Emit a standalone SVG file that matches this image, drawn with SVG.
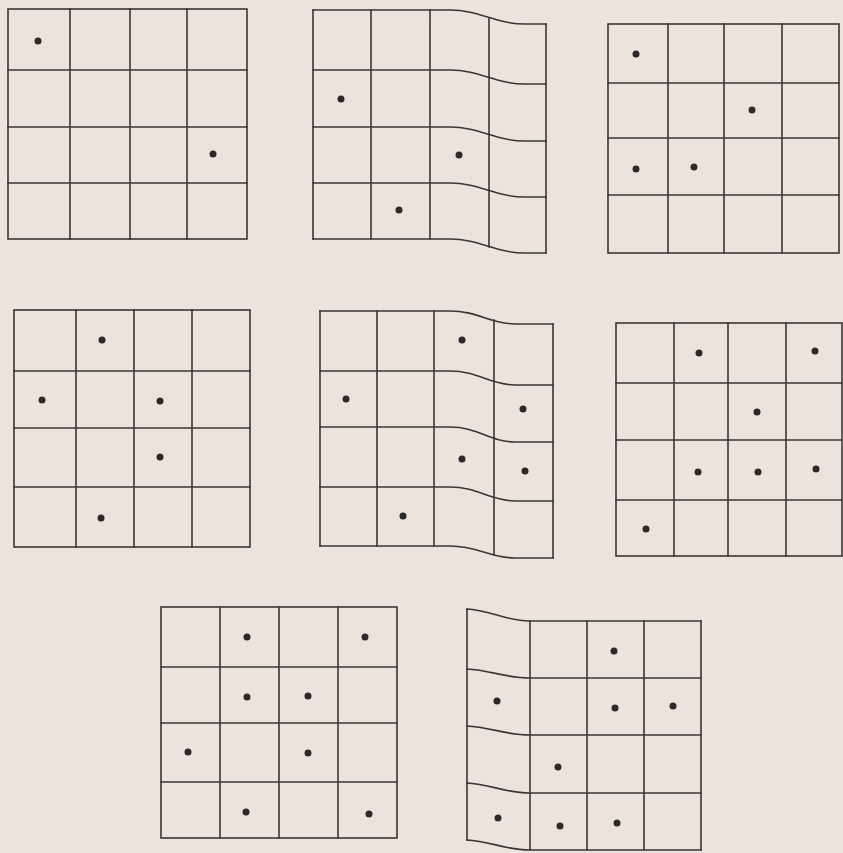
<svg xmlns="http://www.w3.org/2000/svg" width="843" height="853" viewBox="0 0 843 853">
<style>
.ln{stroke:#3b3634;stroke-width:1.6;fill:none;stroke-linecap:square}
.dot{fill:#2e2926}
</style>
<rect x="0" y="0" width="843" height="853" fill="#ede3da"/>
<g id="grid1">
<rect class="ln" x="8" y="9" width="239" height="230"/>
<path class="ln" d="M70,9V239M130,9V239M187,9V239M8,70H247M8,127H247M8,183H247"/>
<circle class="dot" cx="38" cy="41" r="3.5"/>
<circle class="dot" cx="213" cy="154" r="3.5"/>
</g>
<g id="grid2">
<path class="ln" d="M313,10V239M371,10V239M430,10V239M489,18V247M546,24V253"/>
<path class="ln" d="M313,10L450,10C480,10 495,24 525,24L546,24M313,70L450,70C480,70 495,84 525,84L546,84M313,127L450,127C480,127 495,141 525,141L546,141M313,183L450,183C480,183 495,197 525,197L546,197M313,239L450,239C480,239 495,253 525,253L546,253"/>
<circle class="dot" cx="341" cy="99" r="3.5"/>
<circle class="dot" cx="459" cy="155" r="3.5"/>
<circle class="dot" cx="399" cy="210" r="3.5"/>
</g>
<g id="grid3">
<rect class="ln" x="608" y="24" width="231" height="229"/>
<path class="ln" d="M668,24V253M724,24V253M782,24V253M608,83H839M608,138H839M608,195H839"/>
<circle class="dot" cx="636" cy="54" r="3.5"/>
<circle class="dot" cx="752" cy="110" r="3.5"/>
<circle class="dot" cx="636" cy="169" r="3.5"/>
<circle class="dot" cx="694" cy="167" r="3.5"/>
</g>
<g id="grid4">
<rect class="ln" x="14" y="310" width="236" height="237"/>
<path class="ln" d="M76,310V547M134,310V547M192,310V547M14,371H250M14,428H250M14,487H250"/>
<circle class="dot" cx="102" cy="340" r="3.5"/>
<circle class="dot" cx="42" cy="400" r="3.5"/>
<circle class="dot" cx="160" cy="401" r="3.5"/>
<circle class="dot" cx="160" cy="457" r="3.5"/>
<circle class="dot" cx="101" cy="518" r="3.5"/>
</g>
<g id="grid5">
<path class="ln" d="M320,311V546M377,311V546M434,311V546M494,320V555M553,324V558"/>
<path class="ln" d="M320,311L450,311C478,311 490,324 515,324L553,324M320,371L450,371C478,371 490,385 515,385L553,385M320,427L450,427C478,427 490,442 515,442L553,442M320,487L450,487C478,487 490,501 515,501L553,501M320,546L450,546C478,546 490,558 515,558L553,558"/>
<circle class="dot" cx="462" cy="340" r="3.5"/>
<circle class="dot" cx="346" cy="399" r="3.5"/>
<circle class="dot" cx="523" cy="409" r="3.5"/>
<circle class="dot" cx="462" cy="459" r="3.5"/>
<circle class="dot" cx="525" cy="471" r="3.5"/>
<circle class="dot" cx="403" cy="516" r="3.5"/>
</g>
<g id="grid6">
<rect class="ln" x="616" y="323" width="226" height="233"/>
<path class="ln" d="M674,323V556M728,323V556M786,323V556M616,383H842M616,440H842M616,500H842"/>
<circle class="dot" cx="699" cy="353" r="3.5"/>
<circle class="dot" cx="815" cy="351" r="3.5"/>
<circle class="dot" cx="757" cy="412" r="3.5"/>
<circle class="dot" cx="698" cy="472" r="3.5"/>
<circle class="dot" cx="758" cy="472" r="3.5"/>
<circle class="dot" cx="816" cy="469" r="3.5"/>
<circle class="dot" cx="646" cy="529" r="3.5"/>
</g>
<g id="grid7">
<rect class="ln" x="161" y="607" width="236" height="231"/>
<path class="ln" d="M220,607V838M279,607V838M338,607V838M161,667H397M161,723H397M161,782H397"/>
<circle class="dot" cx="247" cy="637" r="3.5"/>
<circle class="dot" cx="365" cy="637" r="3.5"/>
<circle class="dot" cx="247" cy="697" r="3.5"/>
<circle class="dot" cx="308" cy="696" r="3.5"/>
<circle class="dot" cx="188" cy="752" r="3.5"/>
<circle class="dot" cx="308" cy="753" r="3.5"/>
<circle class="dot" cx="246" cy="812" r="3.5"/>
<circle class="dot" cx="369" cy="814" r="3.5"/>
</g>
<g id="grid8">
<path class="ln" d="M467,609V840M530,621V850M587,621V850M644,621V850M701,621V850"/>
<path class="ln" d="M467,609C490,610 505,621 530,621L701,621M467,669C490,670 505,678 530,678L701,678M467,726C490,727 505,735 530,735L701,735M467,783C490,784 505,793 530,793L701,793M467,840C490,841 505,850 530,850L701,850"/>
<circle class="dot" cx="614" cy="651" r="3.5"/>
<circle class="dot" cx="497" cy="701" r="3.5"/>
<circle class="dot" cx="615" cy="708" r="3.5"/>
<circle class="dot" cx="673" cy="706" r="3.5"/>
<circle class="dot" cx="558" cy="767" r="3.5"/>
<circle class="dot" cx="498" cy="818" r="3.5"/>
<circle class="dot" cx="560" cy="826" r="3.5"/>
<circle class="dot" cx="617" cy="823" r="3.5"/>
</g>
<g id="connectors"/>
</svg>
